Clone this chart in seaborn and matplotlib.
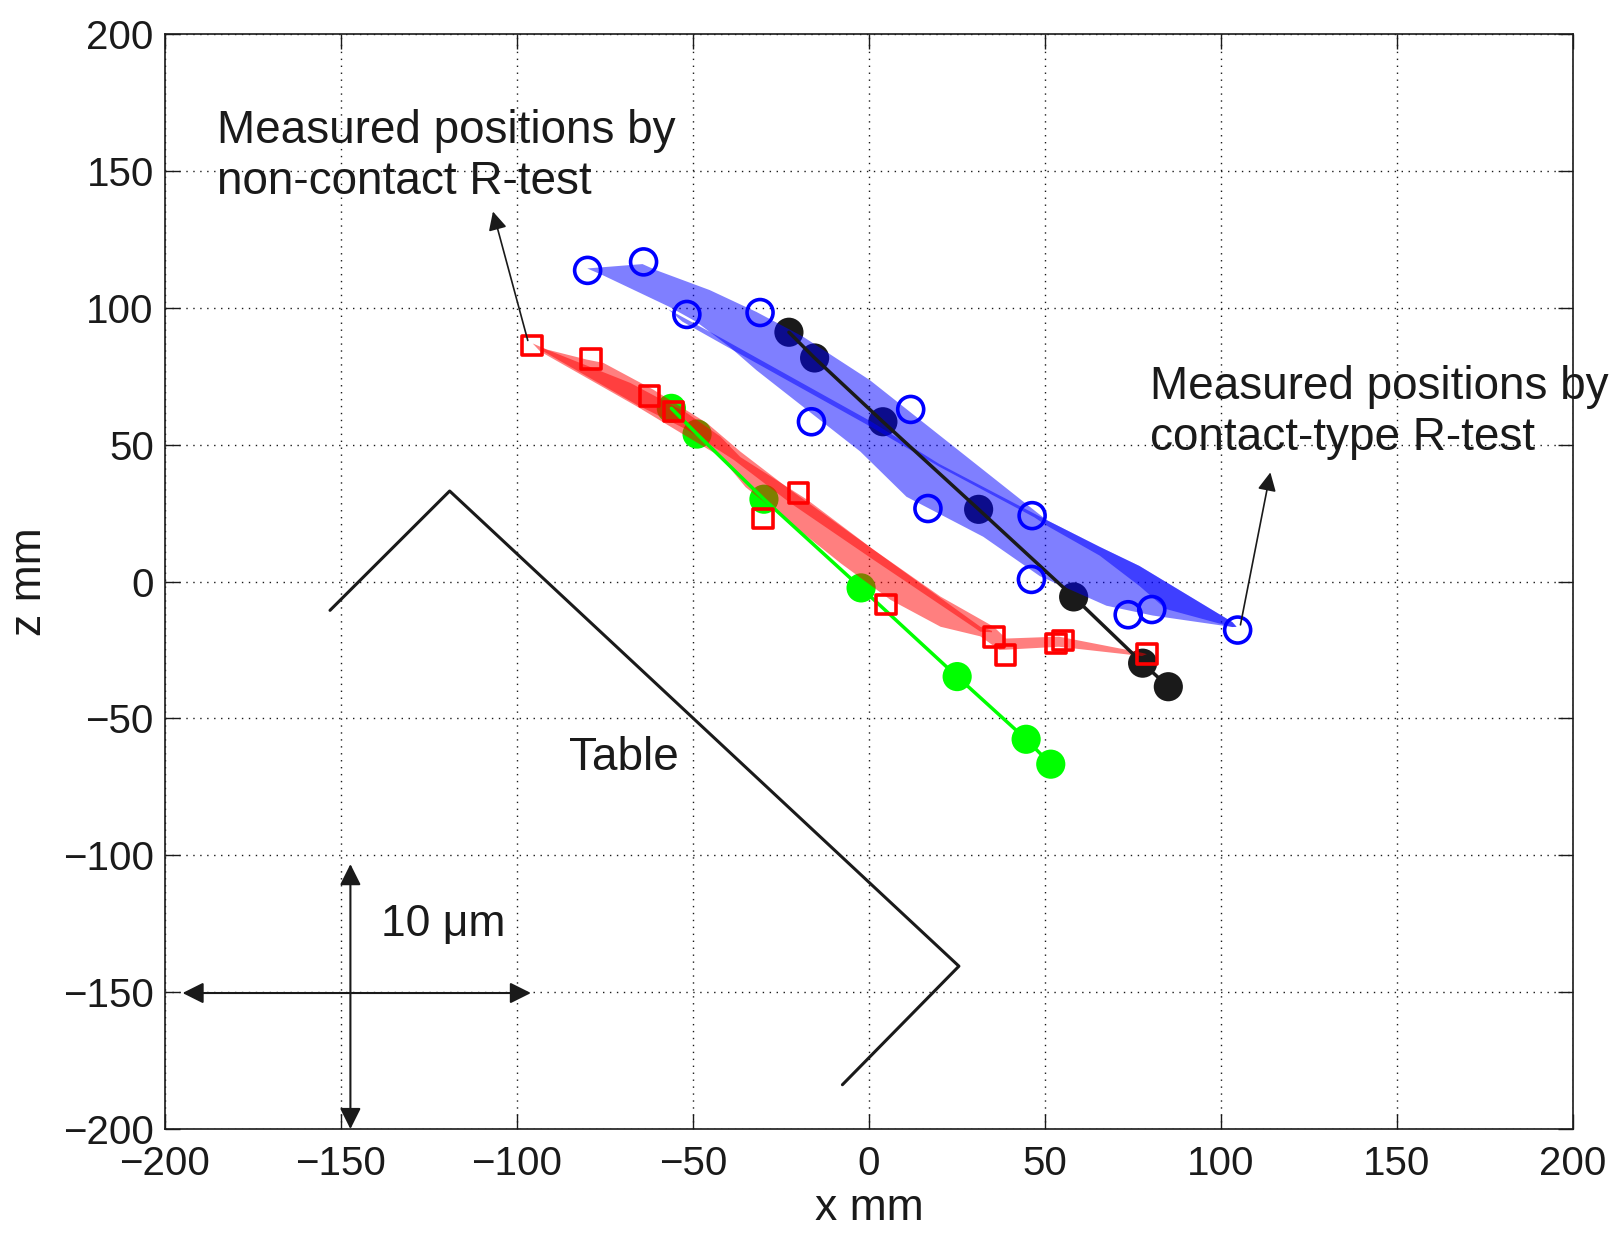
import numpy as np
import seaborn as sns
import matplotlib.pyplot as plt

# measured positions by contact-type R-test (open blue circles)
contact_x = [-79.9, -64.0, -51.7, -30.9, -16.3, 11.9, 16.8, 46.4, 46.2, 73.7, 80.4, 104.8]
contact_z = [113.7, 116.8, 97.6, 98.3, 58.4, 62.9, 26.7, 24.1, 0.8, -12.1, -10.2, -17.7]

# measured positions by non-contact R-test (open red squares)
noncontact_x = [-95.7, -79.0, -62.3, -55.5, -20.0, -30.0, 4.8, 35.6, 38.8, 53.2, 55.2, 79.0]
noncontact_z = [86.3, 81.4, 67.8, 62.1, 32.4, 23.0, -8.3, -20.3, -26.7, -22.6, -21.5, -26.4]

# reference positions (filled black / green)
ref_contact_x = [-22.7, -15.4, 4.0, 31.2, 58.2, 77.8, 85.1]
ref_contact_z = [91.1, 81.7, 58.4, 26.4, -5.6, -29.8, -38.4]
ref_noncontact_x = [-56.1, -48.8, -29.8, -2.2, 25.1, 44.7, 51.7]
ref_noncontact_z = [63.3, 53.9, 30.1, -2.3, -34.7, -57.6, -66.7]

# shaded error bands (outer band and overlapping core)
blue_band_x = [-80.0, -64.3, -60.5, -45.2, -31.9, -18.6, 0.3, 23.0, 50.5, 65.6, 76.9, 103.3, 104.5,
               103.3, 80.7, 67.5, 48.6, 44.8, 32.5, 10.7, -2.4, -18.6, -31.9, -39.5, -49.0, -56.7, -75.7]
blue_band_z = [114.4, 116.0, 113.8, 106.5, 98.5, 89.4, 73.6, 50.5, 22.5, 12.7, 5.7, -14.8, -16.5,
               -16.6, -12.4, -8.8, 2.0, 5.4, 16.4, 31.0, 47.5, 63.8, 77.2, 85.7, 94.9, 100.4, 112.0]
blue_core_x = [-57.0, -41.4, 0.5, 20.0, 50.5, 65.6, 76.9, 103.3, 104.5,
               103.3, 84.4, 76.9, 65.6, 50.5, 47.0, 20.0, 0.5, -41.4, -53.0]
blue_core_z = [99.5, 88.6, 58.6, 43.0, 22.5, 12.7, 5.7, -14.8, -16.5,
               -16.6, -10.0, -1.6, 9.5, 20.5, 23.5, 42.0, 56.6, 86.6, 95.0]

red_band_x = [-95.5, -91.5, -80.1, -75.4, -61.2, -53.6, -46.0, -36.5, -22.3, 1.4, 20.4, 35.5, 39.0, 54.0, 77.6,
              79.0, 77.6, 54.0, 37.1, 31.7, 20.4, 6.2, -8.0, -35.0, -42.2, -51.7, -65.9, -93.4]
red_band_z = [87.0, 84.8, 81.1, 79.9, 70.1, 64.0, 57.9, 47.5, 33.5, 11.6, -5.5, -16.5, -20.8, -20.1, -26.0,
              -26.5, -27.2, -23.8, -25.0, -20.0, -16.5, -6.7, 6.7, 34.5, 45.7, 53.0, 64.0, 84.1]
red_core_x = [-93.0, -67.8, -51.7, -42.2, -36.5, -17.5, 1.4, 31.7, 35.0,
              35.0, 31.7, 1.4, -22.3, -38.4, -51.7, -65.9, -93.0]
red_core_z = [85.5, 72.6, 61.6, 53.0, 45.5, 29.9, 11.6, -16.5, -18.0,
              -18.5, -18.3, 7.9, 28.7, 44.5, 55.5, 64.6, 84.5]

# machine table outline
table_x = [-153.1, -119.1, 25.6, -7.5]
table_z = [-10.5, 33.1, -140.5, -183.8]

ticks = np.arange(-200, 201, 50)

sns.set_theme(style='white')
plt.rcParams['font.family'] = ['Liberation Sans', 'DejaVu Sans']
plt.rcParams['axes.unicode_minus'] = True
plt.rcParams['text.color'] = 'k'
plt.rcParams['axes.labelcolor'] = 'k'

fig = plt.figure(figsize=(16.17, 12.33), dpi=100)
ax = fig.add_axes([0.102, 0.0843, 0.8706, 0.888])

# filled reference markers sit below the bands
sns.scatterplot(x=ref_contact_x, y=ref_contact_z, color='k', s=441, edgecolor='none', ax=ax, zorder=2)
sns.scatterplot(x=ref_noncontact_x, y=ref_noncontact_z, color=(0, 1, 0), s=441, edgecolor='none',
                ax=ax, zorder=2)

ax.fill(blue_band_x, blue_band_z, color=(0, 0, 1), alpha=0.5, lw=0, zorder=3)
ax.fill(blue_core_x, blue_core_z, color=(0, 0, 1), alpha=0.5, lw=0, zorder=3)
ax.fill(red_band_x, red_band_z, color=(1, 0, 0), alpha=0.5, lw=0, zorder=3)
ax.fill(red_core_x, red_core_z, color=(1, 0, 0), alpha=0.5, lw=0, zorder=3)

sns.lineplot(x=ref_contact_x, y=ref_contact_z, sort=False, estimator=None, color='k', lw=2.5,
             ax=ax, zorder=4)
sns.lineplot(x=ref_noncontact_x, y=ref_noncontact_z, sort=False, estimator=None, color=(0, 1, 0),
             lw=2.5, ax=ax, zorder=4)
sns.lineplot(x=table_x, y=table_z, sort=False, estimator=None, color='k', lw=2.2, ax=ax, zorder=4)

sns.scatterplot(x=contact_x, y=contact_z, marker='o', s=350, color='blue', facecolor='none',
                edgecolor='blue', linewidth=2.6, ax=ax, zorder=5)
sns.scatterplot(x=noncontact_x, y=noncontact_z, marker='s', s=200, color='red', facecolor='none',
                edgecolor='red', linewidth=2.6, ax=ax, zorder=5)

# annotations
ax.text(-185.1, 155.2, 'Measured positions by\nnon-contact R-test', fontsize=33, ha='left',
        va='center', zorder=6)
ax.text(79.8, 61.8, 'Measured positions by\ncontact-type R-test', fontsize=33, ha='left',
        va='center', zorder=6)
ax.annotate('', xy=(-106.8, 135.2), xytext=(-96.9, 88.1),
            arrowprops=dict(arrowstyle='-|>', color='k', lw=1.2, mutation_scale=28,
                            shrinkA=0, shrinkB=0), zorder=6)
ax.annotate('', xy=(114.1, 39.9), xytext=(105.6, -15.8),
            arrowprops=dict(arrowstyle='-|>', color='k', lw=1.2, mutation_scale=28,
                            shrinkA=0, shrinkB=0), zorder=6)
ax.text(-69.6, -64.4, 'Table', fontsize=33, ha='center', va='center', zorder=6)

# scale bar
ax.annotate('', xy=(-96.0, -150.3), xytext=(-195.0, -150.3),
            arrowprops=dict(arrowstyle='<|-|>', color='k', lw=1.5, mutation_scale=32,
                            shrinkA=0, shrinkB=0), zorder=6)
ax.annotate('', xy=(-147.3, -103.2), xytext=(-147.3, -200.0),
            arrowprops=dict(arrowstyle='<|-|>', color='k', lw=1.5, mutation_scale=32,
                            shrinkA=0, shrinkB=0), zorder=6, annotation_clip=False)
ax.text(-120.9, -125.4, '10 μm', fontsize=32, ha='center', va='center', zorder=6)

ax.set_xlim(-200, 200)
ax.set_ylim(-200, 200)
ax.set_xticks(ticks)
ax.set_yticks(ticks)
ax.set_axisbelow(True)
ax.grid(True, color='k', lw=1.0, ls=(0, (1, 4)))
ax.tick_params(direction='in', length=11, width=1, top=True, right=True, bottom=True, left=True,
               labelsize=29, pad=8, colors='k')
ax.tick_params(axis='x', pad=11.5)
for s in ax.spines.values():
    s.set_color('k')
    s.set_linewidth(1.2)
ax.set_xlabel('x mm', fontsize=32, labelpad=3.5, color='k')
ax.set_ylabel('z mm', fontsize=32, labelpad=9.5, color='k')

fig.savefig('out.png', dpi=100)
